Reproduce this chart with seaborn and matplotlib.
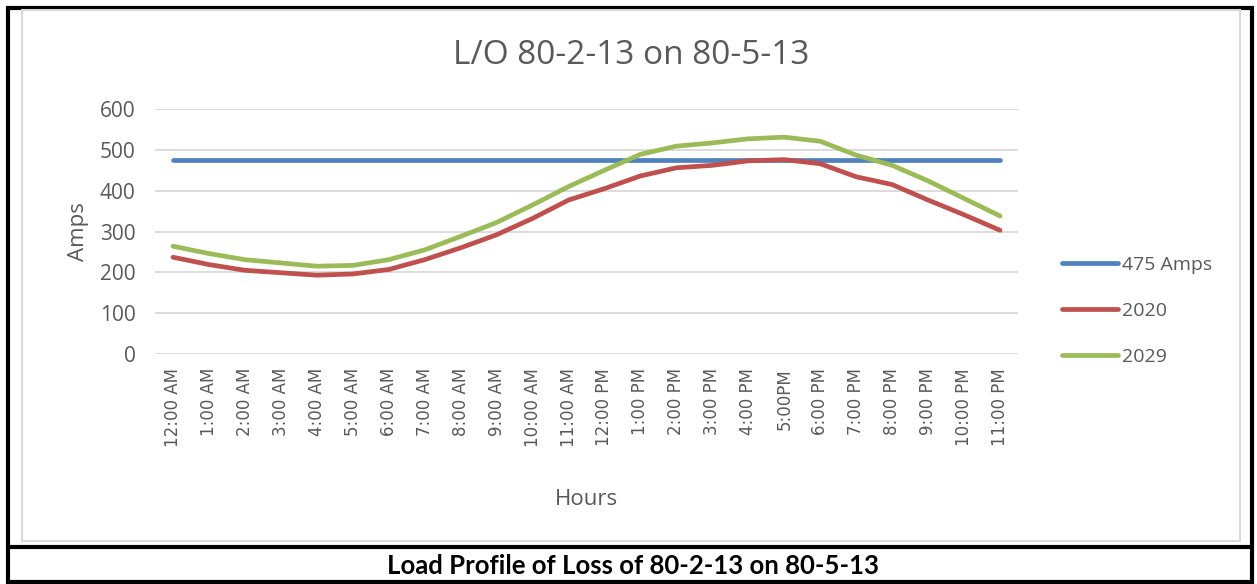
import numpy as np
import pandas as pd
import seaborn as sns
import matplotlib.pyplot as plt
from matplotlib.patches import Rectangle
from matplotlib.lines import Line2D

# --- data ---
hours = ['12:00 AM', '1:00 AM', '2:00 AM', '3:00 AM', '4:00 AM', '5:00 AM',
         '6:00 AM', '7:00 AM', '8:00 AM', '9:00 AM', '10:00 AM', '11:00 AM',
         '12:00 PM', '1:00 PM', '2:00 PM', '3:00 PM', '4:00 PM', '5:00PM',
         '6:00 PM', '7:00 PM', '8:00 PM', '9:00 PM', '10:00 PM', '11:00 PM']
limit_475 = [475] * 24
load_2020 = [237, 219, 205, 199, 193, 196, 207, 231, 260, 292, 332, 377,
             405, 436, 456, 462, 473, 476, 466, 434, 415, 377, 341, 303]
load_2029 = [264, 246, 231, 223, 215, 217, 231, 255, 288, 322, 365, 410,
             450, 489, 509, 517, 527, 531, 521, 487, 462, 424, 381, 338]

series_names = ['475 Amps', '2020', '2029']
colors = ['#4F81BD', '#C0504D', '#9BBB59']

pos = np.arange(len(hours))
df = pd.concat([
    pd.DataFrame({'pos': pos, 'amps': vals, 'series': name})
    for name, vals in zip(series_names, [limit_475, load_2020, load_2029])
])

# --- style ---
sns.set_theme(style="white")
plt.rcParams['font.family'] = ['Open Sans', 'DejaVu Sans']
text_grey = '#595959'
grid_grey = '#d9d9d9'

fig = plt.figure(figsize=(12.57, 5.84), dpi=100)
ax = fig.add_axes([155 / 1257, 1 - 354 / 584, 863 / 1257, 245 / 584])

sns.lineplot(data=df, x='pos', y='amps', hue='series', hue_order=series_names,
             palette=colors, linewidth=3.4, ax=ax, legend=False,
             solid_capstyle='round')

ax.set_xlim(-0.5, len(hours) - 0.5)
ax.set_ylim(0, 600)
ax.set_yticks(range(0, 601, 100))
ax.set_xticks(pos)
ax.set_xticklabels(hours, rotation=90, fontsize=12, color=text_grey,
                   family='DejaVu Sans')
ax.tick_params(axis='y', labelsize=15, colors=text_grey, length=0, pad=14)
ax.tick_params(axis='x', length=0, pad=10)
ax.grid(axis='y', color=grid_grey, linewidth=1.3)
ax.set_axisbelow(True)
for s in ax.spines.values():
    s.set_visible(False)

ax.set_xlabel('Hours', fontsize=16, color=text_grey, labelpad=30)
ax.set_ylabel('Amps', fontsize=16, color=text_grey, labelpad=8)

fig.text(631 / 1257, 1 - 55 / 584, 'L/O 80-2-13 on 80-5-13', ha='center',
         va='center', fontsize=24, color=text_grey)

# legend on the right
handles = [Line2D([0], [0], color=c, linewidth=3.4, solid_capstyle='round')
           for c in colors]
leg = fig.legend(handles, series_names, loc='center left',
                 bbox_to_anchor=(1044 / 1257, 1 - 311 / 584), frameon=False,
                 fontsize=14, labelspacing=1.45, handlelength=2.9,
                 handletextpad=0.2, labelcolor=text_grey)

# frames: outer black box, grey chart border, caption divider
fig.patches.append(Rectangle((8 / 1257, 2 / 584), 1244 / 1257, 574 / 584,
                             transform=fig.transFigure, fill=False,
                             edgecolor='black', linewidth=3))
fig.patches.append(Rectangle((22 / 1257, 1 - 541 / 584), 1218 / 1257, 531 / 584,
                             transform=fig.transFigure, fill=False,
                             edgecolor=grid_grey, linewidth=1.5))
fig.add_artist(Line2D([8 / 1257, 1252 / 1257], [1 - 547 / 584, 1 - 547 / 584],
                      transform=fig.transFigure, color='black', linewidth=3))

fig.text(633 / 1257, 1 - 566 / 584, 'Load Profile of Loss of 80-2-13 on 80-5-13',
         ha='center', va='center', fontsize=18.5, fontweight='bold',
         color='black', family=['Lato', 'DejaVu Sans'])

fig.savefig('out.png', dpi=100)
